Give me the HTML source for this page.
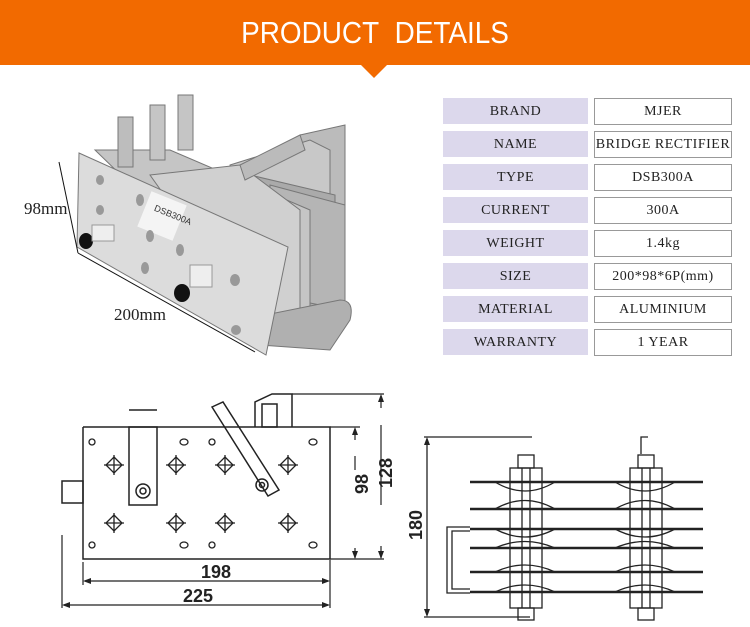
<!DOCTYPE html>
<html><head><meta charset="utf-8"><style>
html,body{margin:0;padding:0;background:#fff;}
body{width:750px;height:627px;overflow:hidden;position:relative;font-family:"Liberation Sans",sans-serif;}
.hd{position:absolute;left:0;top:0;width:750px;height:65px;background:#F26A00;}
.hd span{position:absolute;left:0;width:750px;top:15px;text-align:center;color:#fff;font-size:31px;transform:scaleX(0.9);transform-origin:375px 0;}
.tri{position:absolute;left:360px;top:64px;width:0;height:0;border-left:14px solid transparent;border-right:14px solid transparent;border-top:14px solid #F26A00;}
.c{position:absolute;height:26px;line-height:28px;text-align:center;font-family:"Liberation Serif","Noto Serif CJK SC",serif;font-size:14px;color:#222;letter-spacing:0.5px;}
.l{left:443px;width:145px;background:#DCD8EC;}
.r{left:594px;width:138px;border:1px solid #999;box-sizing:border-box;height:27px;line-height:25px;background:#fff;}
</style></head><body>
<div class="hd"><span>PRODUCT&nbsp; DETAILS</span></div>
<div class="tri"></div>

<div class="c l" style="top:98px">BRAND</div><div class="c r" style="top:98px">MJER</div>
<div class="c l" style="top:131px">NAME</div><div class="c r" style="top:131px">BRIDGE RECTIFIER</div>
<div class="c l" style="top:164px">TYPE</div><div class="c r" style="top:164px">DSB300A</div>
<div class="c l" style="top:197px">CURRENT</div><div class="c r" style="top:197px">300A</div>
<div class="c l" style="top:230px">WEIGHT</div><div class="c r" style="top:230px">1.4kg</div>
<div class="c l" style="top:263px">SIZE</div><div class="c r" style="top:263px">200*98*6P(mm)</div>
<div class="c l" style="top:296px">MATERIAL</div><div class="c r" style="top:296px">ALUMINIUM</div>
<div class="c l" style="top:329px">WARRANTY</div><div class="c r" style="top:329px">1 YEAR</div>

<svg width="750" height="627" style="position:absolute;left:0;top:0" xmlns="http://www.w3.org/2000/svg">
<g stroke="#777" stroke-width="1">
<polygon points="300,135 345,125 345,245 300,260" fill="#bbb"/>
<polygon points="230,165 310,140 330,150 330,330 300,340 240,290" fill="#c8c8c8"/>
<polygon points="250,175 335,195 335,320 250,300" fill="#aaa"/>
<polygon points="270,185 345,205 345,310 270,295" fill="#b5b5b5"/>
<polygon points="95,150 170,150 310,210 310,320 280,330" fill="#c5c5c5"/>
<polygon points="150,175 240,165 300,210 300,320 260,330" fill="#d0d0d0"/>
<rect x="118" y="117" width="15" height="50" fill="#bdbdbd"/>
<rect x="150" y="105" width="15" height="55" fill="#c5c5c5"/>
<rect x="178" y="95" width="15" height="55" fill="#c5c5c5"/>
<path d="M240,320 L340,300 Q355,300 350,320 L330,350 L260,345 Z" fill="#b0b0b0"/>
<polygon points="79,153 288,247 266,355 77,247" fill="#dcdcdc"/>
<polygon points="240,165 300,135 305,150 245,180" fill="#bbb"/>
</g>
<rect x="143" y="197" width="38" height="38" fill="#f4f4f4" transform="rotate(22 162 216)"/>
<text x="152" y="214" font-size="9" fill="#333" font-family="Liberation Sans" transform="rotate(22 162 216)">DSB300A</text>
<g fill="#999"><ellipse cx="100" cy="180" rx="4" ry="5"/><ellipse cx="140" cy="200" rx="4" ry="6"/><ellipse cx="150" cy="236" rx="4" ry="6"/><ellipse cx="180" cy="250" rx="4" ry="6"/><ellipse cx="145" cy="268" rx="4" ry="6"/><ellipse cx="235" cy="280" rx="5" ry="6"/><ellipse cx="236" cy="330" rx="5" ry="5"/><ellipse cx="100" cy="210" rx="4" ry="5"/></g>
<ellipse cx="86" cy="241" rx="7" ry="8" fill="#111"/><rect x="92" y="225" width="22" height="16" fill="#eee" stroke="#999"/>
<ellipse cx="182" cy="293" rx="8" ry="9" fill="#111"/><rect x="190" y="265" width="22" height="22" fill="#eee" stroke="#999"/>
<g stroke="#111" stroke-width="1"><line x1="59" y1="162" x2="78" y2="253"/><line x1="78" y1="253" x2="255" y2="352"/></g>
<text x="24" y="214" font-family="Liberation Serif" font-size="17" fill="#222">98mm</text>
<text x="114" y="320" font-family="Liberation Serif" font-size="17" fill="#222">200mm</text>

<g fill="none" stroke="#222" stroke-width="1.5">
<polyline points="83,427 330,427 330,559 83,559 83,427"/>
<rect x="62" y="481" width="21" height="22"/>
<rect x="129" y="427" width="28" height="78"/>
<line x1="129" y1="410" x2="157" y2="410"/>
<polygon points="212,407 223,402 279,490 268,496"/>
<polyline points="255,427 255,402 272,394 292,394 292,427"/>
<rect x="262" y="404" width="15" height="23"/>
<circle cx="143" cy="491" r="7"/><circle cx="143" cy="491" r="3"/>
<circle cx="262" cy="485" r="6"/><circle cx="262" cy="485" r="2.5"/>
<g stroke-width="1.3">
<circle cx="92" cy="442" r="3"/><circle cx="92" cy="545" r="3"/><ellipse cx="184" cy="442" rx="4" ry="3"/><circle cx="212" cy="442" r="3"/><ellipse cx="313" cy="442" rx="4" ry="3"/><ellipse cx="184" cy="545" rx="4" ry="3"/><circle cx="212" cy="545" r="3"/><ellipse cx="313" cy="545" rx="4" ry="3"/>
</g>
<g stroke-width="1.3">
<path d="M114,457 l8,8 l-8,8 l-8,-8z M176,457 l8,8 l-8,8 l-8,-8z M225,457 l8,8 l-8,8 l-8,-8z M288,457 l8,8 l-8,8 l-8,-8z"/>
<path d="M114,515 l8,8 l-8,8 l-8,-8z M176,515 l8,8 l-8,8 l-8,-8z M225,515 l8,8 l-8,8 l-8,-8z M288,515 l8,8 l-8,8 l-8,-8z"/>
<path d="M104,465h20M114,455v20M166,465h20M176,455v20M215,465h20M225,455v20M278,465h20M288,455v20"/>
<path d="M104,523h20M114,513v20M166,523h20M176,513v20M215,523h20M225,513v20M278,523h20M288,513v20"/>
</g>
</g>
<g stroke="#222" stroke-width="1.2" fill="none">
<line x1="292" y1="394" x2="384" y2="394"/><line x1="330" y1="427" x2="360" y2="427"/><line x1="330" y1="559" x2="384" y2="559"/>
<line x1="381" y1="396" x2="381" y2="408"/><line x1="381" y1="425" x2="381" y2="505"/><line x1="381" y1="546" x2="381" y2="558"/>
<line x1="355" y1="429" x2="355" y2="440"/><line x1="355" y1="456" x2="355" y2="470"/><line x1="355" y1="548" x2="355" y2="558"/>
<line x1="83" y1="562" x2="83" y2="585"/><line x1="330" y1="560" x2="330" y2="608"/><line x1="62" y1="535" x2="62" y2="608"/>
<line x1="85" y1="581" x2="328" y2="581"/><line x1="64" y1="605" x2="328" y2="605"/>
</g>
<g fill="#222">
<path d="M83,581 l8,-3 v6z M330,581 l-8,-3 v6z M62,605 l8,-3 v6z M330,605 l-8,-3 v6z M381,394 l-3,8 h6z M381,559 l-3,-8 h6z M355,427 l-3,8 h6z M355,559 l-3,-8 h6z"/>
</g>
<text x="216" y="578" text-anchor="middle" font-family="Liberation Sans" font-weight="bold" font-size="18" fill="#222">198</text>
<text x="198" y="602" text-anchor="middle" font-family="Liberation Sans" font-weight="bold" font-size="18" fill="#222">225</text>
<text transform="translate(368,494) rotate(-90)" font-family="Liberation Sans" font-weight="bold" font-size="18" fill="#222">98</text>
<text transform="translate(392,488) rotate(-90)" font-family="Liberation Sans" font-weight="bold" font-size="18" fill="#222">128</text>

<g stroke="#222" stroke-width="1.3" fill="none">
<line x1="424" y1="437" x2="532" y2="437"/><line x1="424" y1="617" x2="530" y2="617"/>
<line x1="427" y1="439" x2="427" y2="615"/>
<polyline points="470,527 447,527 447,593 470,593"/><polyline points="470,531 452,531 452,589 470,589"/>
<g stroke-width="2.5">
<line x1="470" y1="482" x2="703" y2="482"/><line x1="470" y1="509" x2="703" y2="509"/><line x1="470" y1="529" x2="703" y2="529"/><line x1="470" y1="548" x2="703" y2="548"/><line x1="470" y1="572" x2="703" y2="572"/><line x1="470" y1="592" x2="703" y2="592"/>
</g>
<path d="M495,482 Q525,500 555,482 M495,509 Q525,492 555,509 M495,529 Q525,545 555,529 M495,548 Q525,535 555,548 M495,572 Q525,558 555,572 M495,592 Q525,578 555,592"/>
<path d="M615,482 Q645,500 675,482 M615,509 Q645,492 675,509 M615,529 Q645,545 675,529 M615,548 Q645,535 675,548 M615,572 Q645,558 675,572 M615,592 Q645,578 675,592"/>
<rect x="510" y="468" width="32" height="140"/><rect x="518" y="455" width="16" height="13"/><rect x="518" y="608" width="16" height="12"/>
<line x1="522" y1="468" x2="522" y2="608"/><line x1="530" y1="468" x2="530" y2="608"/>
<rect x="630" y="468" width="32" height="140"/><rect x="638" y="455" width="16" height="13"/><rect x="638" y="608" width="16" height="12"/>
<line x1="642" y1="468" x2="642" y2="608"/><line x1="650" y1="468" x2="650" y2="608"/>
<polyline points="641,454 641,437 648,437"/>
</g>
<path d="M427,437 l-3,8 h6z M427,617 l-3,-8 h6z" fill="#222"/>
<text transform="translate(422,540) rotate(-90)" font-family="Liberation Sans" font-weight="bold" font-size="18" fill="#222">180</text>
</svg>
</body></html>
